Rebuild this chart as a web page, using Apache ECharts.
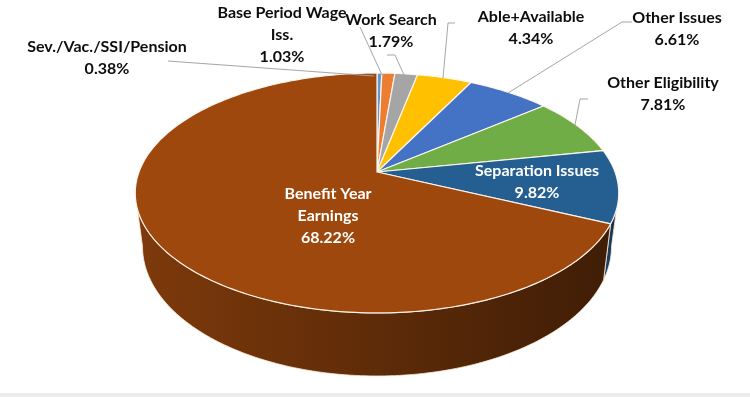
<!DOCTYPE html>
<html><head><meta charset="utf-8">
<script src="https://cdn.jsdelivr.net/npm/echarts@6/dist/echarts.min.js"></script>
<style>html,body{margin:0;padding:0;background:#fff}#c{width:750px;height:397px}</style>
</head><body><div id="c"></div>
<script>
// ---- data ----
const categories = ['Sev./Vac./SSI/Pension','Base Period Wage\nIss.','Work Search','Able+Available','Other Issues','Other Eligibility','Separation Issues','Benefit Year\nEarnings'];
const values = [0.38, 1.03, 1.79, 4.34, 6.61, 7.81, 9.82, 68.22];
const colors = ['#5B9BD5','#ED7D31','#A5A5A5','#FFC000','#4472C4','#70AD47','#255E91','#9E480E'];

// ---- layout (not data) ----
const labelPos = [[107,58],[282,35],[391,31],[531,28],[677,29],[663,94],[537,182],[328,216]];
const labelInside = [false,false,false,false,false,false,true,true];
const leaders = [
  [[168,61],[374,76]],
  [[360,27],[382,75]],
  [[387,55],[395,55],[404,75]],
  [[455,23],[448,23],[443,78]],
  [[632,22],[622,22],[508,93]],
  [[588,99],[580,99],[575,125]],
  null, null
];
const CX = 377, CY = 172, A = 0.175, B = 116.3, C = 238, D = 52;

function proj(deg, h) {
  const t = deg * Math.PI / 180;
  const u = Math.cos(t), v = Math.sin(t);
  const s = 1 / (1 - A * v);
  const k = 1 - 0.03 * h; // slight perspective narrowing of the bottom
  return [CX + C * u * s * k, CY + B * v * s + D * h * s];
}
function shade(hex, f) {
  const n = parseInt(hex.slice(1), 16);
  const r = Math.round(((n >> 16) & 255) * f), g = Math.round(((n >> 8) & 255) * f), b = Math.round((n & 255) * f);
  return 'rgb(' + r + ',' + g + ',' + b + ')';
}
const total = values.reduce((a, b) => a + b, 0);
const starts = [];
let acc = 0;
values.forEach(v => { starts.push(acc); acc += v; });
const visA = Math.asin(A) * 180 / Math.PI, visB = 180 - visA;

function renderItem(params, api) {
  const i = params.dataIndex;
  const val = api.value(0);
  const a0 = -90 + starts[i] / total * 360;
  const a1 = a0 + val / total * 360;
  const children = [];
  // side wall
  const s0 = Math.max(a0, visA), s1 = Math.min(a1, visB);
  if (s1 > s0) {
    const st = Math.min(1, (s1 - s0));
    const pts = [], bottom = [];
    for (let d = s0; d < s1; d += st) { pts.push(proj(d, 0)); bottom.push(proj(d, 1)); }
    pts.push(proj(s1, 0)); bottom.push(proj(s1, 1));
    bottom.reverse();
    children.push({
      type: 'polygon', shape: { points: pts.concat(bottom) },
      style: {
        fill: { type: 'linear', x: 0, y: 0, x2: 1, y2: 0,
          colorStops: [{ offset: 0, color: shade(colors[i], 0.8) }, { offset: 1, color: shade(colors[i], 0.4) }] },
        stroke: 'rgba(255,235,215,0.8)', lineWidth: 1
      }
    });
  }
  // top face
  const top = [[CX, CY]];
  const step = Math.min(1, a1 - a0);
  for (let d = a0; d < a1; d += step) top.push(proj(d, 0));
  top.push(proj(a1, 0));
  children.push({
    type: 'polygon', shape: { points: top },
    style: { fill: colors[i], stroke: 'rgba(255,248,240,0.95)', lineWidth: 1.2, lineJoin: 'round' }
  });
  // leader
  if (leaders[i]) {
    children.push({ type: 'polyline', shape: { points: leaders[i] }, z2: 50,
      style: { stroke: '#a6a6a6', lineWidth: 1, fill: null } });
  }
  // label
  children.push({
    type: 'text', x: labelPos[i][0], y: labelPos[i][1], z2: 100,
    style: {
      text: categories[i] + '\n' + val.toFixed(2) + '%',
      fill: labelInside[i] ? '#ffffff' : '#0d0d0d',
      fontFamily: 'Lato', fontWeight: 'bold', fontSize: 16, lineHeight: 22,
      align: 'center', verticalAlign: 'middle'
    }
  });
  return { type: 'group', children };
}

const chart = echarts.init(document.getElementById('c'), null, { renderer: 'canvas' });
chart.setOption({
  animation: false,
  backgroundColor: '#ffffff',
  graphic: [{ type: 'rect', shape: { x: 0, y: 393, width: 750, height: 4 }, style: { fill: '#ebebeb' } }],
  series: [{
    type: 'custom', coordinateSystem: 'none',
    renderItem: renderItem,
    data: values.map((v, i) => ({ name: categories[i], value: [v, i] }))
  }]
});
</script></body></html>
